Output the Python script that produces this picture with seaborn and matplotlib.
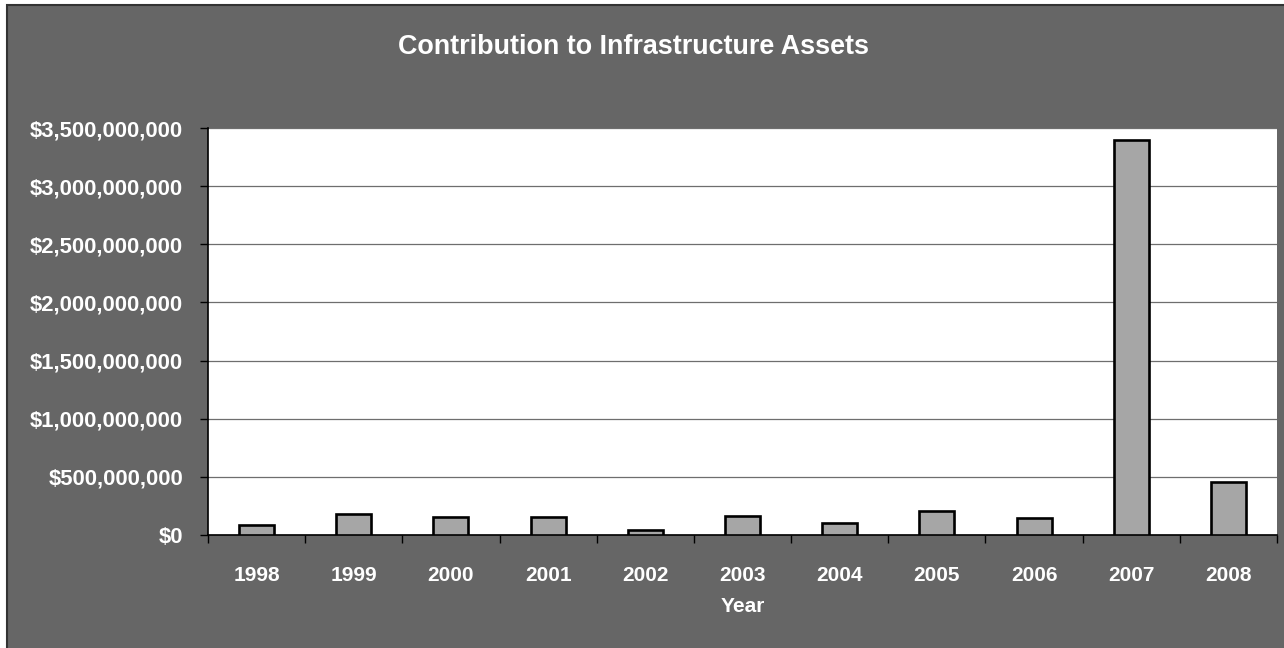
import matplotlib
matplotlib.use("Agg")
import matplotlib.pyplot as plt
from matplotlib.patches import Rectangle
from matplotlib.ticker import FuncFormatter, FixedLocator
import seaborn as sns
import pandas as pd

years = ["1998", "1999", "2000", "2001", "2002", "2003", "2004", "2005", "2006", "2007", "2008"]
contributions = [89e6, 181e6, 155e6, 155e6, 46e6, 164e6, 100e6, 206e6, 143e6, 3393e6, 456e6]

df = pd.DataFrame({"Year": years, "Contribution": contributions})

sns.set_theme(style="white")
plt.rcParams["font.family"] = ["Liberation Sans", "DejaVu Sans"]

BG = "#666666"
fig = plt.figure(figsize=(12.84, 6.48), dpi=100, facecolor="white")
# chart-area background with a dark outline
fig.patches.append(Rectangle((7 / 1284, -0.01), 1.1, (648 - 5) / 648 + 0.01,
                             transform=fig.transFigure, facecolor=BG,
                             edgecolor="#333333", linewidth=1.5, zorder=-10))

ax = fig.add_axes([208 / 1284, (648 - 535) / 648, (1277 - 208) / 1284, (535 - 128) / 648])
ax.set_facecolor("white")

sns.barplot(data=df, x="Year", y="Contribution", color="#a6a6a6", saturation=1,
            width=0.36, edgecolor="black", linewidth=1.9, ax=ax, zorder=3)

ax.set_ylim(0, 3.5e9)
ax.set_xlim(-0.5, len(years) - 0.5)
ax.set_yticks([i * 5e8 for i in range(8)])
ax.yaxis.set_major_formatter(FuncFormatter(lambda v, p: f"${v:,.0f}"))
ax.yaxis.grid(True, color="#6e6e6e", linewidth=0.9, zorder=0)
ax.set_axisbelow(True)

# category-boundary ticks on the x axis
ax.xaxis.set_minor_locator(FixedLocator([i - 0.5 for i in range(len(years) + 1)]))
ax.tick_params(axis="x", which="major", length=0, pad=22, labelsize=15,
               labelcolor="white")
ax.tick_params(axis="x", which="minor", length=6, width=1, color="black",
               direction="out", bottom=True)
ax.tick_params(axis="y", length=6, width=1, color="black", direction="out",
               left=True, pad=12, labelsize=15.8, labelcolor="white")
for lab in ax.get_xticklabels() + ax.get_yticklabels():
    lab.set_fontweight("bold")

for side in ["top", "right"]:
    ax.spines[side].set_visible(False)
for side in ["left", "bottom"]:
    ax.spines[side].set_color("black")
    ax.spines[side].set_linewidth(1.2)

ax.set_xlabel("Year", color="white", fontsize=15, fontweight="bold", labelpad=9)
ax.set_ylabel("")

fig.text((398 + 870) / 2 / 1284, 1 - 47 / 648, "Contribution to Infrastructure Assets",
         ha="center", va="center", color="white", fontsize=19.4, fontweight="bold")

fig.savefig("out.png", dpi=100, facecolor=fig.get_facecolor())
